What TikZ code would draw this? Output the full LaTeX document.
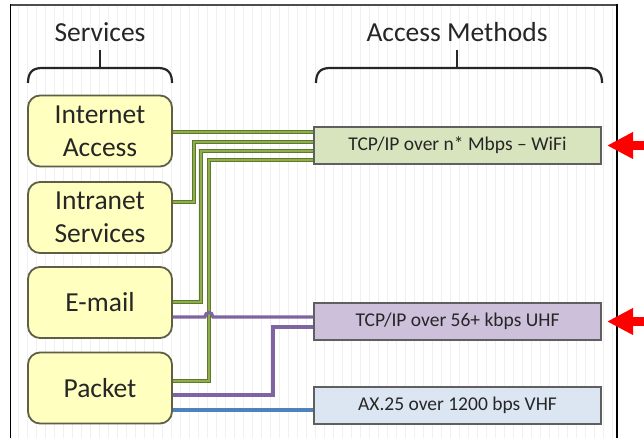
\documentclass[tikz,border=0pt]{standalone}
\usepackage{fontspec}
\setmainfont{Carlito}
\usetikzlibrary{arrows.meta,calc}
\definecolor{svcfill}{RGB}{255,255,192}
\definecolor{svcdraw}{RGB}{95,95,70}
\definecolor{wififill}{RGB}{215,228,189}
\definecolor{uhffill}{RGB}{204,192,218}
\definecolor{vhffill}{RGB}{220,230,242}
\definecolor{boxdraw}{RGB}{95,95,95}
\definecolor{gdark}{RGB}{95,120,45}
\definecolor{glight}{RGB}{140,175,75}
\definecolor{purp}{RGB}{128,100,162}
\definecolor{blu}{RGB}{79,129,189}
\definecolor{txt}{RGB}{38,38,38}
\begin{document}
\begin{tikzpicture}[x=1pt,y=-1pt,
  hdr/.style={font=\fontsize{27.5}{33}\selectfont, text=txt, inner sep=0pt},
  svcbox/.style={draw=svcdraw, fill=svcfill, line width=1.8pt, rounded corners=12pt,
    minimum width=144pt, minimum height=71pt, inner sep=0pt, align=center,
    font=\fontsize{27.5}{33}\selectfont, text=txt},
  accbox/.style={draw=boxdraw, line width=1.8pt, minimum width=287pt, minimum height=37pt,
    inner sep=0pt, font=\fontsize{19.5}{23}\selectfont, text=txt},
  gline/.style={draw=gdark, double=glight, double distance=1.6pt, line width=1.0pt},
  pline/.style={draw=purp, line width=3.2pt},
  bline/.style={draw=blu, line width=3.2pt},
  bracel/.style={line width=2.2pt, black!85},
  redarrow/.style={draw=red, line width=9pt, -{Triangle[length=26pt,width=25pt]}},
]
\useasboundingbox (0,0) rectangle (644,438);
\fill[white] (0,0) rectangle (644,438);
\draw[black!6, line width=0.5pt, step=9] (11,5) grid (617,438);
% frame
\draw[black!70, line width=1.6pt] (10,5) -- (617.5,5);
\draw[black, line width=1.6pt] (10.5,4.3) -- (10.5,438);
\draw[black, line width=1.6pt] (617,4.3) -- (617,438);

% headers
\node[hdr, anchor=base] (svc) at (100,42) {Services};
\node[hdr, anchor=base] (acc) at (457,42) {Access Methods};

% braces
\draw[bracel] (28,83) .. controls (28,73) and (32,68) .. (42,68) -- (158,68)
  .. controls (168,68) and (172,73) .. (172,83);
\draw[bracel] (100,68) -- (100,50);
\draw[bracel] (316,83) .. controls (316,73) and (320,68) .. (330,68) -- (588,68)
  .. controls (598,68) and (602,73) .. (602,83);
\draw[bracel] (457,68) -- (457,50);

% service boxes
\node[svcbox] (ia) at (100,131) {Internet\\Access};
\node[svcbox] (is) at (100,217.5) {Intranet\\Services};
\node[svcbox] (em) at (100,302.5) {E-mail};
\node[svcbox] (pk) at (100,388) {Packet};

% access boxes
\node[accbox, fill=wififill] (wifi) at (457.5,145.5) {TCP/IP over n* Mbps -- WiFi};
\node[accbox, fill=uhffill] (uhf) at (457.5,321.5) {TCP/IP over 56+ kbps UHF};
\node[accbox, fill=vhffill] (vhf) at (457.5,405.5) {AX.25 over 1200 bps VHF};

% connectors
\coordinate (ia1) at ([yshift=-1]ia.east);
\draw[gline] (ia1) -- (ia1 -| wifi.west);
\draw[gline] ([yshift=15.5]is.east) -- ++(21,0) |- ([yshift=3.5]wifi.west);
\draw[gline] ([yshift=0.5]em.east) -- ++(28,0) |- ([yshift=-5.5]wifi.west);
\draw[gline] ([yshift=7]pk.east) -- ++(36,0) |- ([yshift=-14.5]wifi.west);

\coordinate (em2) at ([yshift=-14.5]em.east);
\draw[pline] (em2) -- ++(32,0) .. controls +(0,-6) and +(0,-6) .. ++(8,0) -- (em2 -| uhf.west);
\draw[pline] ([yshift=-7]pk.east) -- ++(100,0) |- ([yshift=-5.5]uhf.west);
\coordinate (pk3) at ([yshift=-22]pk.east);
\draw[bline] (pk3) -- (pk3 -| vhf.west);

% red arrows
\coordinate (r1s) at (645,145.5);
\coordinate (r1t) at (607,145.5);
\draw[redarrow] (r1s) -- (r1t);
\coordinate (r2s) at (645,321.5);
\coordinate (r2t) at (607,321.5);
\draw[redarrow] (r2s) -- (r2t);
\end{tikzpicture}
\end{document}
